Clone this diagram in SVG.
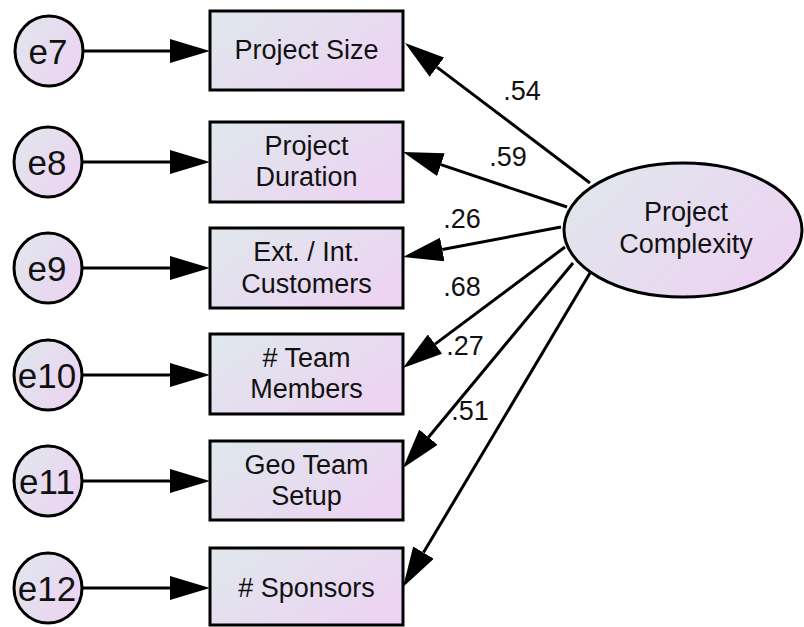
<svg xmlns="http://www.w3.org/2000/svg" width="804" height="627" viewBox="0 0 804 627">
<style>
.shape{stroke:#000;stroke-width:3}
.txt{font-family:"Liberation Sans",Arial,sans-serif;font-size:27px;fill:#111;text-anchor:middle}
.etxt{font-family:"Liberation Sans",Arial,sans-serif;font-size:35px;fill:#111;text-anchor:middle}
.conn{stroke:#000;stroke-width:3;fill:none;marker-end:url(#ah)}
</style>
<defs>
<linearGradient id="g" x1="0" y1="0" x2="1" y2="0.6">
<stop offset="0" stop-color="#dfe8ec"/>
<stop offset="1" stop-color="#ecd4f2"/>
</linearGradient>
<marker id="ah" markerUnits="userSpaceOnUse" viewBox="0 0 40 24" refX="0" refY="12" markerWidth="40" markerHeight="24" orient="auto">
<path d="M0,0 L40,12 L0,24 z" fill="#000"/>
</marker>
</defs>
<rect width="804" height="627" fill="#fff"/>

<g id="connectors">
<line class="conn" x1="83" y1="51" x2="170" y2="51"/>
<line class="conn" x1="82" y1="162" x2="170" y2="162"/>
<line class="conn" x1="82" y1="268" x2="170" y2="268"/>
<line class="conn" x1="82" y1="375" x2="170" y2="375"/>
<line class="conn" x1="82" y1="481" x2="170" y2="481"/>
<line class="conn" x1="82" y1="588" x2="170" y2="588"/>
<line class="conn" x1="590" y1="183" x2="436.9" y2="67.1"/>
<line class="conn" x1="567" y1="207" x2="440.9" y2="164.7"/>
<line class="conn" x1="561" y1="227" x2="442.3" y2="249.5"/>
<line class="conn" x1="565" y1="247" x2="435.0" y2="344.1"/>
<line class="conn" x1="573" y1="263" x2="428.5" y2="437.2"/>
<line class="conn" x1="590" y1="273" x2="423.5" y2="552.6"/>
</g>

<g id="weights">
<text class="txt" x="522" y="100">.54</text>
<text class="txt" x="508" y="166">.59</text>
<text class="txt" x="462" y="228">.26</text>
<text class="txt" x="462" y="296">.68</text>
<text class="txt" x="465" y="355">.27</text>
<text class="txt" x="470" y="420">.51</text>
</g>

<g id="e7"><ellipse class="shape" cx="49" cy="51" rx="34" ry="35" fill="url(#g)"/><text class="etxt" x="48" y="64">e7</text></g>
<g id="e8"><ellipse class="shape" cx="48" cy="162" rx="34" ry="35" fill="url(#g)"/><text class="etxt" x="47" y="175">e8</text></g>
<g id="e9"><ellipse class="shape" cx="48" cy="268" rx="34" ry="35" fill="url(#g)"/><text class="etxt" x="47" y="281">e9</text></g>
<g id="e10"><ellipse class="shape" cx="48" cy="375" rx="34" ry="35" fill="url(#g)"/><text class="etxt" x="47" y="388">e10</text></g>
<g id="e11"><ellipse class="shape" cx="48" cy="481" rx="34" ry="35" fill="url(#g)"/><text class="etxt" x="47" y="494">e11</text></g>
<g id="e12"><ellipse class="shape" cx="48" cy="588" rx="34" ry="35" fill="url(#g)"/><text class="etxt" x="47" y="601">e12</text></g>

<g id="project-size"><rect class="shape" x="210" y="11" width="193" height="79" fill="url(#g)"/><text class="txt" x="306.5" y="59">Project Size</text></g>
<g id="project-duration"><rect class="shape" x="210" y="122" width="193" height="80" fill="url(#g)"/><text class="txt" x="306.5" y="155">Project</text><text class="txt" x="306.5" y="186">Duration</text></g>
<g id="customers"><rect class="shape" x="210" y="228" width="193" height="80" fill="url(#g)"/><text class="txt" x="306.5" y="261">Ext. / Int.</text><text class="txt" x="306.5" y="293">Customers</text></g>
<g id="team-members"><rect class="shape" x="210" y="334" width="193" height="80" fill="url(#g)"/><text class="txt" x="306.5" y="367"># Team</text><text class="txt" x="306.5" y="398">Members</text></g>
<g id="geo-team"><rect class="shape" x="210" y="441" width="193" height="79" fill="url(#g)"/><text class="txt" x="306.5" y="474">Geo Team</text><text class="txt" x="306.5" y="505">Setup</text></g>
<g id="sponsors"><rect class="shape" x="210" y="548" width="193" height="77" fill="url(#g)"/><text class="txt" x="306.5" y="597"># Sponsors</text></g>

<g id="project-complexity"><ellipse class="shape" cx="683" cy="230" rx="119" ry="67" fill="url(#g)"/><text class="txt" x="686" y="221">Project</text><text class="txt" x="686" y="253">Complexity</text></g>
</svg>
